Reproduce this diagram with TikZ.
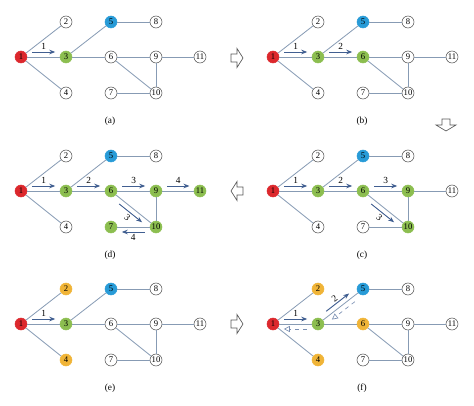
\documentclass[tikz,border=0pt]{standalone}
\usepackage{fontspec}
\setmainfont{Liberation Serif}
\usetikzlibrary{calc}
\usetikzlibrary{arrows.meta}

\definecolor{srcred}{RGB}{220,40,45}
\definecolor{donegreen}{RGB}{140,190,80}
\definecolor{sinkblue}{RGB}{40,155,215}
\definecolor{waitorange}{RGB}{240,180,55}
\definecolor{linkgray}{RGB}{135,155,180}
\definecolor{flowblue}{RGB}{65,95,145}

\tikzset{
 vtx/.style={circle,draw=gray!60!black,fill=white,line width=0.4pt,minimum size=9pt,inner sep=0pt,font=\fontsize{6.5}{7}\selectfont},
 src/.style={fill=srcred,draw=srcred},
 done/.style={fill=donegreen,draw=donegreen},
 sink/.style={fill=sinkblue,draw=sinkblue},
 wait/.style={fill=waitorange,draw=waitorange},
 link/.style={draw=linkgray,line width=0.6pt},
 flow/.style={draw=flowblue,line width=0.7pt,-{Stealth[length=4.5pt,width=3.5pt]}},
 back/.style={draw=flowblue!70,line width=0.5pt,dashed,-{Triangle[open,length=4.5pt,width=4.5pt]}},
 tag/.style={font=\fontsize{7}{8}\selectfont,inner sep=1.2pt},
 bigarrow/.style={draw=gray!70!black,fill=white,line width=0.5pt,line join=miter}
}

% one panel of the network, #1 = prefix, #2 = caption
\newcommand\network[2]{%
 \foreach \n/\x/\y in {1/0/0,2/45/-35,3/45/0,4/45/36,5/90/-35,6/90/0,7/90/36,8/135/-35,9/135/0,10/135/36,11/179/0}
  \node[vtx,#1\n/.try] (#1\n) at (\x,\y) {\n};
 \foreach \s/\t in {1/2,1/3,1/4,3/5,5/8,3/6,6/9,9/11,6/10,9/10,7/10}
  \draw[link] (#1\s) -- (#1\t);
 \node[tag] (#1cap) at (89,64) {(#2)};
}
% arrow beside an edge: style, from, to, side, label
\newcommand\flowarrow[5]{%
 \draw[#1] ($(#2)!.25!(#3)!3.75pt!#4:(#3)$) -- ($(#2)!.76!(#3)!3.75pt!#4:(#3)$) #5;
}

\begin{document}
\begin{tikzpicture}[x=0.75pt,y=-0.75pt]
 \useasboundingbox (0,0) rectangle (474,406);

 \tikzset{a1/.style=src, a3/.style=done, a5/.style=sink,
  b1/.style=src, b3/.style=done, b6/.style=done, b5/.style=sink,
  c1/.style=src, c3/.style=done, c6/.style=done, c9/.style=done, c10/.style=done, c5/.style=sink,
  d1/.style=src, d3/.style=done, d6/.style=done, d9/.style=done, d10/.style=done, d11/.style=done, d7/.style=done, d5/.style=sink,
  e1/.style=src, e3/.style=done, e2/.style=wait, e4/.style=wait, e5/.style=sink,
  f1/.style=src, f3/.style=done, f2/.style=wait, f4/.style=wait, f6/.style=wait, f5/.style=sink}

 % (a)
 \begin{scope}[shift={(21,57)}]
  \network{a}{a}
  \flowarrow{flow}{a1}{a3}{90}{node[tag,midway,above]{1}}
 \end{scope}
 % (b)
 \begin{scope}[shift={(273,57)}]
  \network{b}{b}
  \flowarrow{flow}{b1}{b3}{90}{node[tag,midway,above]{1}}
  \flowarrow{flow}{b3}{b6}{90}{node[tag,midway,above]{2}}
 \end{scope}
 % (c)
 \begin{scope}[shift={(273,191)}]
  \network{c}{c}
  \flowarrow{flow}{c1}{c3}{90}{node[tag,midway,above]{1}}
  \flowarrow{flow}{c3}{c6}{90}{node[tag,midway,above]{2}}
  \flowarrow{flow}{c6}{c9}{90}{node[tag,midway,above]{3}}
  \flowarrow{flow}{c6}{c10}{-90}{node[tag,midway,below,sloped]{3}}
 \end{scope}
 % (d)
 \begin{scope}[shift={(21,191)}]
  \network{d}{d}
  \flowarrow{flow}{d1}{d3}{90}{node[tag,midway,above]{1}}
  \flowarrow{flow}{d3}{d6}{90}{node[tag,midway,above]{2}}
  \flowarrow{flow}{d6}{d9}{90}{node[tag,midway,above]{3}}
  \flowarrow{flow}{d6}{d10}{-90}{node[tag,midway,below,sloped]{3}}
  \flowarrow{flow}{d9}{d11}{90}{node[tag,midway,above]{4}}
  \flowarrow{flow}{d10}{d7}{90}{node[tag,midway,below]{4}}
 \end{scope}
 % (e)
 \begin{scope}[shift={(21,324)}]
  \network{e}{e}
  \flowarrow{flow}{e1}{e3}{90}{node[tag,midway,above]{1}}
 \end{scope}
 % (f)
 \begin{scope}[shift={(273,324)}]
  \network{f}{f}
  \flowarrow{flow}{f1}{f3}{90}{node[tag,midway,above]{1}}
  \flowarrow{back}{f3}{f1}{90}{}
  \flowarrow{flow}{f3}{f5}{90}{node[tag,midway,above,sloped]{2}}
  \flowarrow{back}{f5}{f3}{90}{}
 \end{scope}

 % steps between panels
 \draw[bigarrow,shift={(237,58)}] (-6,-4) -- (0,-4) -- (0,-9.5) -- (6,0) -- (0,9.5) -- (0,4) -- (-6,4) -- cycle;
 \draw[bigarrow,shift={(446,125)},rotate=-90] (-6,-4) -- (0,-4) -- (0,-10) -- (6,0) -- (0,10) -- (0,4) -- (-6,4) -- cycle;
 \draw[bigarrow,shift={(237,191)},rotate=180] (-6,-4) -- (0,-4) -- (0,-9.5) -- (6,0) -- (0,9.5) -- (0,4) -- (-6,4) -- cycle;
 \draw[bigarrow,shift={(237,324)}] (-6,-4) -- (0,-4) -- (0,-9.5) -- (6,0) -- (0,9.5) -- (0,4) -- (-6,4) -- cycle;
\end{tikzpicture}
\end{document}
